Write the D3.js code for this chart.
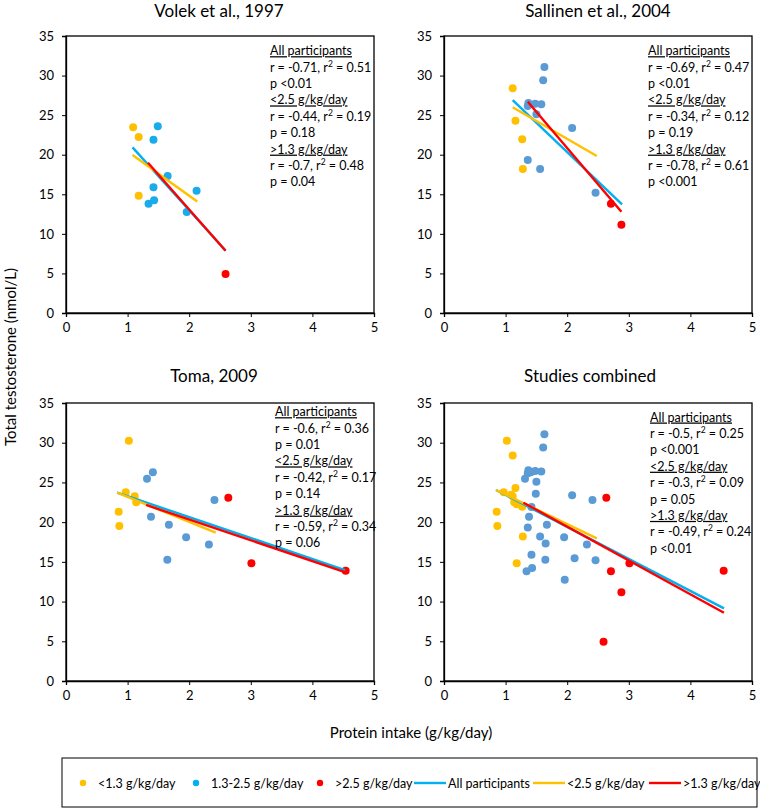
<!DOCTYPE html>
<html><head><meta charset="utf-8">
<script src="https://cdn.jsdelivr.net/npm/d3@7"></script>
<style>
body{margin:0;background:#fff;}
svg{font-family:Lato,"Open Sans",sans-serif;}
</style></head>
<body><svg id="c" width="760" height="810"></svg>
<script>
// ---------- data ----------
const panelTitles = ["Volek et al., 1997","Sallinen et al., 2004","Toma, 2009","Studies combined"];
const xTicks = [0,1,2,3,4,5];
const yTicks = [0,5,10,15,20,25,30,35];
const groupNames = ["<1.3 g/kg/day","1.3-2.5 g/kg/day",">2.5 g/kg/day"];
const lineNames = ["All participants","<2.5 g/kg/day",">1.3 g/kg/day"];

// points: [protein, testosterone, group(0 low,1 mid,2 high)]
const volekPoints = [
  [1.09,23.46,0],[1.18,22.24,0],[1.18,14.82,0],
  [1.49,23.59,1],[1.42,21.9,1],[1.65,17.3,1],[1.42,15.88,1],[2.12,15.46,1],
  [1.34,13.81,1],[1.43,14.24,1],[1.96,12.76,1],
  [2.59,4.93,2]
];
const sallinenPoints = [
  [1.115,28.39,0],[1.16,24.3,0],[1.27,21.94,0],[1.28,18.2,0],
  [1.63,31.08,1],[1.61,29.4,1],[1.37,26.54,1],[1.36,26.16,1],[1.48,26.45,1],
  [1.58,26.37,1],[1.50,25.1,1],[1.36,19.33,1],[1.56,18.2,1],[2.08,23.38,1],[2.46,15.2,1],
  [2.71,13.81,2],[2.88,11.16,2]
];
const tomaPoints = [
  [1.02,30.26,0],[0.97,23.75,0],[1.115,23.25,0],[1.14,22.5,0],[0.855,21.32,0],[0.866,19.51,0],
  [1.41,26.27,1],[1.315,25.47,1],[1.38,20.69,1],[1.67,19.68,1],[1.95,18.09,1],[2.32,17.2,1],
  [1.645,15.27,1],[2.41,22.79,1],
  [2.635,23.08,2],[3.01,14.82,2],[4.54,13.89,2]
];
const combinedPoints = volekPoints.concat(sallinenPoints, tomaPoints);

// regression line endpoints [x0,y0,x1,y1]: all, <2.5, >1.3
const volekLines    = [[1.08,20.93,2.59,7.9],[1.08,19.96,2.13,14.1],[1.33,18.99,2.59,7.87]];
const sallinenLines = [[1.115,26.9,2.89,13.73],[1.115,25.99,2.48,19.84],[1.36,26.7,2.88,12.8]];
const tomaLines     = [[0.83,23.71,4.53,13.97],[0.83,23.71,2.43,18.67],[1.30,22.16,4.54,13.69]];
const combinedLines = [[0.844,24.05,4.545,9.15],[0.844,24.05,2.48,17.96],[1.29,22.45,4.545,8.6]];

// statistics text
const volekStats    = ["r = -0.71, r|2| = 0.51","p <0.01","r = -0.44, r|2| = 0.19","p = 0.18","r = -0.7, r|2| = 0.48","p = 0.04"];
const sallinenStats = ["r = -0.69, r|2| = 0.47","p <0.01","r = -0.34, r|2| = 0.12","p = 0.19","r = -0.78, r|2| = 0.61","p <0.001"];
const tomaStats     = ["r = -0.6, r|2| = 0.36","p = 0.01","r = -0.42, r|2| = 0.17","p = 0.14","r = -0.59, r|2| = 0.34","p = 0.06"];
const combinedStats = ["r = -0.5, r|2| = 0.25","p <0.001","r = -0.3, r|2| = 0.09","p = 0.05","r = -0.49, r|2| = 0.24","p <0.01"];

// ---------- style / layout ----------
const pointColors = ["#FFC000","#5B9BD5","#FF0000"];
const pointColorsVolek = ["#FFC000","#1AABEB","#FF0000"];
const lineColors = ["#00B0F0","#FFC000","#FF0000"];
const panels = [
  {title:panelTitles[0], pts:volekPoints, lines:volekLines, stats:volekStats, left:66, top:36, bottom:313, tx:219, ty:17, sx:270, sy:50.7, colors:pointColorsVolek},
  {title:panelTitles[1], pts:sallinenPoints, lines:sallinenLines, stats:sallinenStats, left:444, top:36, bottom:313, tx:598, ty:17, sx:648, sy:50.7, colors:pointColors},
  {title:panelTitles[2], pts:tomaPoints, lines:tomaLines, stats:tomaStats, left:66, top:403, bottom:681, tx:214, ty:382, sx:275, sy:411.7, colors:pointColors},
  {title:panelTitles[3], pts:combinedPoints, lines:combinedLines, stats:combinedStats, left:444, top:403, bottom:681, tx:590, ty:382, sx:650, sy:417, colors:pointColors}
];
const W = 308;
const svg = d3.select("#c");

panels.forEach(p=>{
  const x = d3.scaleLinear().domain([0,5]).range([p.left,p.left+W]);
  const y = d3.scaleLinear().domain([0,35]).range([p.bottom,p.top]);
  const g = svg.append("g");
  // frame
  g.append("rect").attr("x",p.left).attr("y",p.top).attr("width",W).attr("height",p.bottom-p.top)
    .attr("fill","none").attr("stroke","#000").attr("stroke-width",1.3);
  const xa = g.append("g").attr("transform",`translate(0,${p.bottom})`)
    .call(d3.axisBottom(x).tickValues(xTicks).tickSize(4).tickPadding(6).tickFormat(d3.format("d")));
  const ya = g.append("g").attr("transform",`translate(${p.left},0)`)
    .call(d3.axisLeft(y).tickValues(yTicks).tickSize(4).tickPadding(8).tickFormat(d3.format("d")));
  [xa,ya].forEach(a=>{
    a.select(".domain").attr("stroke","#000").attr("stroke-width",1.3);
    a.selectAll(".tick line").attr("stroke","#000").attr("stroke-width",1);
    a.selectAll(".tick text").attr("font-size",13).attr("font-family","Lato").attr("fill","#000");
  });
  // title
  g.append("text").attr("x",p.tx).attr("y",p.ty).attr("text-anchor","middle")
    .attr("font-size",17).attr("fill","#000").text(p.title);
  // points
  g.selectAll("circle.pt").data(p.pts).join("circle").attr("class","pt")
    .attr("cx",d=>x(d[0])).attr("cy",d=>y(d[1])).attr("r",4)
    .attr("fill",d=>p.colors[d[2]]);
  // lines
  g.selectAll("line.reg").data(p.lines).join("line").attr("class","reg")
    .attr("x1",d=>x(d[0])).attr("y1",d=>y(d[1])).attr("x2",d=>x(d[2])).attr("y2",d=>y(d[3]))
    .attr("stroke",(d,i)=>lineColors[i]).attr("stroke-width",2.4);
  // stats
  const rows = [];
  lineNames.forEach((n,i)=>{ rows.push({t:n,u:true}); rows.push({t:p.stats[i*2],u:false}); rows.push({t:p.stats[i*2+1],u:false}); });
  const lh = 16.4;
  rows.forEach((r,i)=>{
    const t = g.append("text").attr("x",p.sx).attr("y",p.sy+i*lh+4.5).attr("font-size",12.5).attr("fill","#000");
    if(r.u){ t.text(r.t).style("text-decoration","underline"); }
    else {
      const parts = r.t.split("|");
      if(parts.length===1) t.text(r.t);
      else {
        t.append("tspan").text(parts[0]);
        t.append("tspan").attr("dy",-5).attr("font-size",8.5).text(parts[1]);
        t.append("tspan").attr("dy",5).text(parts[2]);
      }
    }
  });
});

// axis titles
svg.append("text").attr("transform","translate(16,357) rotate(-90)").attr("text-anchor","middle")
  .attr("font-size",15).text("Total testosterone (nmol/L)");
svg.append("text").attr("x",411).attr("y",738).attr("text-anchor","middle")
  .attr("font-size",15).text("Protein intake (g/kg/day)");

// legend
svg.append("rect").attr("x",62).attr("y",758).attr("width",695).attr("height",49)
  .attr("fill","none").attr("stroke","#000").attr("stroke-width",1);
const ly = 783;
const legDots = [{x:83},{x:196},{x:320}];
legDots.forEach((d,i)=>{
  svg.append("circle").attr("cx",d.x).attr("cy",ly).attr("r",3.2).attr("fill",lineColors[i===1?0:(i===0?1:2)]);
  svg.append("text").attr("x",d.x+15).attr("y",ly+4.5).attr("font-size",12.5).text(groupNames[i]);
});
const legLines = [{x:414},{x:533},{x:649}];
legLines.forEach((d,i)=>{
  svg.append("line").attr("x1",d.x).attr("x2",d.x+32).attr("y1",ly).attr("y2",ly)
    .attr("stroke",lineColors[i]).attr("stroke-width",2.4);
  svg.append("text").attr("x",d.x+34).attr("y",ly+4.5).attr("font-size",12.5).text(lineNames[i]);
});
</script></body></html>
